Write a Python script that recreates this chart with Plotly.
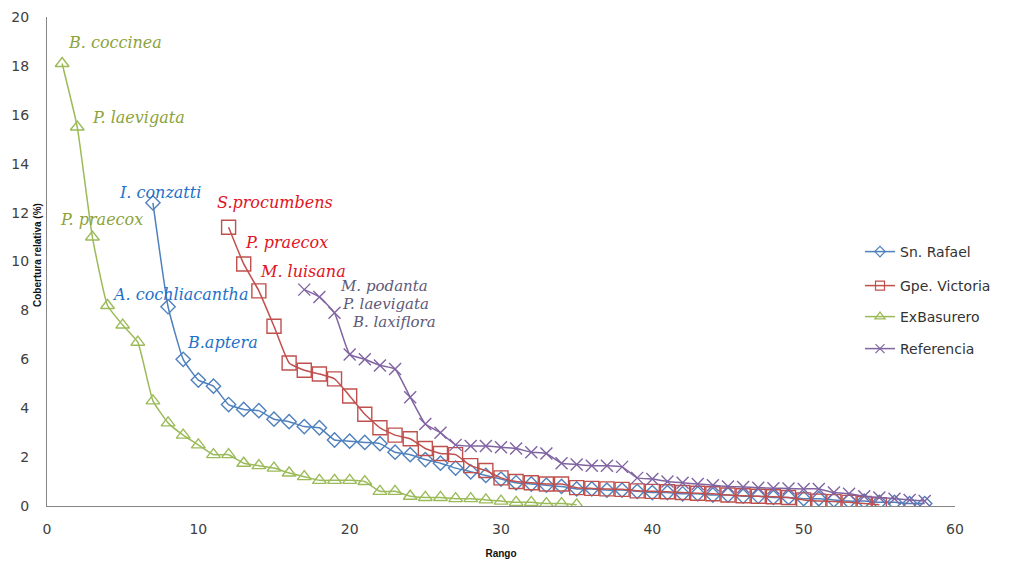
import plotly.graph_objects as go

# ---------------- data ----------------
rafael_x = list(range(7, 59))
rafael_y = [12.4, 8.15, 6.0, 5.15, 4.9, 4.15, 3.95, 3.9, 3.55, 3.45, 3.25, 3.2, 2.7, 2.65,
            2.6, 2.55, 2.2, 2.1, 1.9, 1.75, 1.55, 1.4, 1.25, 1.1, 0.95, 0.9, 0.85, 0.8,
            0.7, 0.7, 0.65, 0.65, 0.6, 0.55, 0.55, 0.5, 0.5, 0.45, 0.45, 0.4, 0.4, 0.35,
            0.35, 0.3, 0.3, 0.25, 0.2, 0.2, 0.15, 0.15, 0.1, 0.1]

victoria_x = list(range(12, 56))
victoria_y = [11.4, 9.9, 8.8, 7.35, 5.85, 5.55, 5.4, 5.2, 4.5, 3.75, 3.2, 2.9, 2.75, 2.35,
              2.15, 2.1, 1.65, 1.45, 1.15, 1.0, 0.95, 0.9, 0.9, 0.75, 0.72, 0.7, 0.68,
              0.62, 0.6, 0.58, 0.55, 0.52, 0.5, 0.45, 0.42, 0.4, 0.38, 0.35, 0.25, 0.2,
              0.18, 0.15, 0.1, 0.05]

basurero_x = list(range(1, 36))
basurero_y = [18.1, 15.5, 11.0, 8.2, 7.4, 6.7, 4.3, 3.4, 2.9, 2.5, 2.1, 2.1, 1.75, 1.65,
              1.55, 1.35, 1.2, 1.05, 1.05, 1.05, 1.0, 0.6, 0.6, 0.4, 0.35, 0.35, 0.3,
              0.3, 0.25, 0.2, 0.15, 0.15, 0.1, 0.1, 0.05]

referencia_x = list(range(17, 59))
referencia_y = [8.85, 8.55, 7.9, 6.2, 6.0, 5.75, 5.6, 4.45, 3.35, 3.0, 2.5, 2.45, 2.45,
                2.4, 2.35, 2.2, 2.15, 1.75, 1.7, 1.65, 1.65, 1.6, 1.15, 1.1, 1.0, 0.95,
                0.9, 0.85, 0.8, 0.78, 0.75, 0.73, 0.72, 0.7, 0.7, 0.55, 0.5, 0.4, 0.35,
                0.3, 0.25, 0.2]

series_names = ["Sn. Rafael", "Gpe. Victoria", "ExBasurero", "Referencia"]
series_colors = ["#4F81BD", "#C0504D", "#9BBB59", "#8064A2"]

# species labels: text, x, y (data coords of left/middle), colour, font size
label_text = ["B. coccinea", "P. laevigata", "P. praecox",
              "I. conzatti", "A. cochliacantha", "B.aptera",
              "S.procumbens", "P. praecox", "M. luisana",
              "M. podanta", "P. laevigata", "B. laxiflora"]
label_x = [1.26, 2.84, 0.73, 4.63, 4.16, 9.12, 11.1, 12.95, 13.95, 19.23, 19.37, 20.03]
label_y = [18.94, 15.87, 11.7, 12.84, 8.67, 6.67, 12.43, 10.76, 9.61, 9.0, 8.26, 7.52]
label_color = ["#8CA33C"] * 3 + ["#1F72C8"] * 3 + ["#E0141E"] * 3 + ["#5E5A78"] * 3
label_size = [16] * 9 + [15] * 3

x_ticks = [0, 10, 20, 30, 40, 50, 60]
y_ticks = [0, 2, 4, 6, 8, 10, 12, 14, 16, 18, 20]

# ---------------- figure ----------------
OFF = 8  # page body margin
W, H = 1010 - OFF, 562 - OFF
PL, PR, PT, PB = 47, 955, 17, 506   # target plot box in page pixels
L, R, T, B = PL - OFF, OFF + W - PR, PT - OFF, OFF + H - PB
plot_w = PR - PL
plot_h = PB - PT

fig = go.Figure()
xs = [rafael_x, victoria_x, basurero_x, referencia_x]
ys = [rafael_y, victoria_y, basurero_y, referencia_y]
symbols = ["diamond-open", "square-open", "triangle-up-open", "x-thin-open"]
sizes = [11, 14, 12, 12]
legend_sizes = [8, 9, 9, 9]
legend_ids = ["legend2", "legend3", "legend4", "legend5"]
legend_py = [252, 286, 317, 349]

for i in range(4):
    fig.add_trace(go.Scatter(
        x=xs[i], y=ys[i], name=series_names[i], mode="lines+markers",
        line=dict(color=series_colors[i], width=1.5, shape="spline", smoothing=0.4),
        marker=dict(symbol=symbols[i], size=sizes[i],
                    line=dict(color=series_colors[i], width=1.4)),
        showlegend=False,
    ))
    # legend-only entry with smaller symbol, as in the original legend
    fig.add_trace(go.Scatter(
        x=[None], y=[None], name=series_names[i], mode="lines+markers",
        line=dict(color=series_colors[i], width=1.5),
        marker=dict(symbol=symbols[i], size=legend_sizes[i],
                    line=dict(color=series_colors[i], width=1.2)),
        legend=legend_ids[i], showlegend=True,
    ))

legend_cfg = {}
for i in range(4):
    legend_cfg[legend_ids[i]] = dict(
        x=(860 - PL) / plot_w, xanchor="left",
        y=(PB - legend_py[i]) / plot_h, yanchor="middle",
        bgcolor="rgba(0,0,0,0)", borderwidth=0,
        font=dict(family="DejaVu Sans", size=14, color="#333333"),
        itemwidth=30, visible=True,
    )

for t, x, y, c, s in zip(label_text, label_x, label_y, label_color, label_size):
    fig.add_annotation(x=x, y=y, xref="x", yref="y", text="<i>" + t + "</i>",
                       showarrow=False, xanchor="left", yanchor="middle",
                       font=dict(family="DejaVu Serif", size=s, color=c))

fig.add_annotation(x=(37 - PL) / plot_w, y=(PB - 255) / plot_h, xref="paper", yref="paper",
                   text="<b>Cobertura relativa (%)</b>", textangle=-90, showarrow=False,
                   xanchor="center", yanchor="middle",
                   font=dict(family="Liberation Sans Narrow, Liberation Sans", size=10,
                             color="#111111"))

fig.update_layout(
    width=W, height=H,
    margin=dict(l=L, r=R, t=T, b=B, autoexpand=False),
    paper_bgcolor="white", plot_bgcolor="white",
    showlegend=True,
    xaxis=dict(range=[0, 60], tickvals=x_ticks, showgrid=False, zeroline=False,
               showline=True, linecolor="#868686", linewidth=1.3,
               ticks="", ticklabelstandoff=10,
               tickfont=dict(family="DejaVu Sans", size=14, color="#404040"),
               title=dict(text="<b>Rango</b>", standoff=14,
                          font=dict(family="Liberation Sans Narrow, Liberation Sans",
                                    size=10, color="#111111"))),
    yaxis=dict(range=[0, 20], tickvals=y_ticks, showgrid=False, zeroline=False,
               showline=True, linecolor="#868686", linewidth=1.3,
               ticks="", ticklabelstandoff=14,
               tickfont=dict(family="DejaVu Sans", size=14, color="#404040")),
    **legend_cfg,
)

fig.write_html("out.html")
